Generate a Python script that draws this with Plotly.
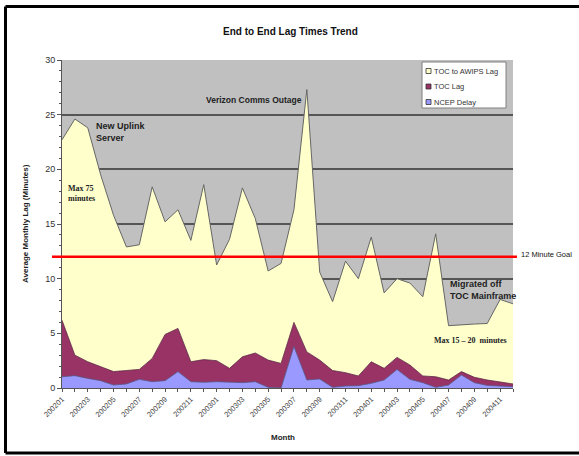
import plotly.graph_objects as go

months = [f"{y}{m:02d}" for y in (2002, 2003, 2004) for m in range(1, 13)]

# cumulative readings (top of each band) converted into separate series
total = [22.7, 24.6, 23.8, 19.5, 15.8, 12.9, 13.1, 18.4, 15.2, 16.3, 13.5, 18.6,
         11.25, 13.6, 18.3, 15.5, 10.7, 11.4, 16.3, 27.3, 10.6, 7.9, 11.6, 10.0,
         13.8, 8.7, 10.0, 9.6, 8.35, 14.1, 5.7, 5.8, 5.85, 5.9, 8.1, 7.7]
toc_top = [6.2, 3.0, 2.4, 1.95, 1.5, 1.6, 1.7, 2.7, 4.9, 5.45, 2.4, 2.6,
           2.5, 1.8, 2.85, 3.2, 2.55, 2.25, 6.0, 3.3, 2.55, 1.6, 1.4, 1.1,
           2.4, 1.8, 2.8, 2.1, 1.1, 1.03, 0.73, 1.5, 0.98, 0.73, 0.58, 0.37]
ncep_delay = [1.03, 1.13, 0.88, 0.67, 0.27, 0.37, 0.79, 0.58, 0.67, 1.5, 0.58, 0.52,
              0.58, 0.52, 0.49, 0.58, 0.06, 0.0, 3.8, 0.73, 0.82, 0.06, 0.18, 0.21,
              0.43, 0.73, 1.7, 0.79, 0.49, 0.06, 0.27, 1.19, 0.49, 0.24, 0.18, 0.12]
toc_lag = [round(t - n, 2) for t, n in zip(toc_top, ncep_delay)]
toc_awips = [round(a - t, 2) for a, t in zip(total, toc_top)]

series_names = ["TOC to AWIPS Lag", "TOC Lag", "NCEP Delay"]
series_colors = ["#ffffcc", "#993366", "#9999ff"]

goal = 12
y_ticks = [0, 5, 10, 15, 20, 25, 30]

idx = list(range(len(months)))
tick_text = [m if i % 2 == 0 else "" for i, m in enumerate(months)]

fig = go.Figure()
fig.add_trace(go.Scatter(x=idx, y=ncep_delay, name=series_names[2], stackgroup="one",
                         mode="lines", line=dict(color="#55558a", width=0.8),
                         fillcolor=series_colors[2]))
fig.add_trace(go.Scatter(x=idx, y=toc_lag, name=series_names[1], stackgroup="one",
                         mode="lines", line=dict(color="#5a2040", width=0.8),
                         fillcolor=series_colors[1]))
fig.add_trace(go.Scatter(x=idx, y=toc_awips, name=series_names[0], stackgroup="one",
                         mode="lines", line=dict(color="#666666", width=1),
                         fillcolor=series_colors[0]))

W, H = 579, 456
L, R, T, B = 62, 513, 60, 388


def px(x):
    return (x - L) / (R - L)


def py(y):
    return (B - y) / (B - T)


fig.add_shape(type="line", xref="paper", yref="y", x0=px(52), x1=px(517), y0=goal, y1=goal,
              line=dict(color="#ff0000", width=2.5))
# outer frame (left, top, bottom edges)
for (x0, y0, x1, y1) in [(5.5, 6.5, 700, 6.5), (5.5, 6.5, 5.5, 453), (5.5, 453, 700, 453)]:
    fig.add_shape(type="line", xref="paper", yref="paper", x0=px(x0), x1=px(x1),
                  y0=py(y0), y1=py(y1), line=dict(color="black", width=3), layer="above")


def ann(text, x, y, size=9, bold=True, family="Liberation Sans", xanchor="left",
        color="#222222", **kw):
    fig.add_annotation(text=f"<b>{text}</b>" if bold else text, x=px(x), y=py(y),
                       xref="paper", yref="paper", showarrow=False, xanchor=xanchor,
                       yanchor="middle", align="left",
                       font=dict(size=size, family=family, color=color), **kw)


ann("End to End Lag Times Trend", 290, 32, size=10, xanchor="center", color="#111111")
ann("Average Monthly Lag (Minutes)", 25, 224, size=8, xanchor="center", textangle=-90)
ann("Month", 283, 437, size=8, xanchor="center")
ann("New Uplink<br>Server", 94, 132, size=9)
ann("Verizon Comms Outage", 204, 100, size=8.5)
ann("Max 75<br>minutes", 66, 193, size=8, family="Liberation Serif")
ann("12 Minute Goal", 519, 254, size=7.5, bold=False, color="#111111")
ann("Migrated off<br>TOC Mainframe", 448, 290, size=9)
ann("Max 15 – 20  minutes", 432, 340, size=8, family="Liberation Serif")

# legend box drawn with shapes + text
fig.add_shape(type="rect", xref="paper", yref="paper", x0=px(422), x1=px(506), y0=py(62), y1=py(108),
              line=dict(color="#808080", width=1), fillcolor="white", layer="above")
for k, (nm, col) in enumerate(zip(series_names, series_colors)):
    yc = 71 + k * 15.5
    fig.add_shape(type="rect", xref="paper", yref="paper", x0=px(426), x1=px(431),
                  y0=py(yc - 2.5), y1=py(yc + 2.5), line=dict(color="#333333", width=0.8),
                  fillcolor=col, layer="above")
    ann(nm, 432, yc, size=7.5, bold=False, color="#333333")

fig.update_layout(
    width=W, height=H,
    margin=dict(l=L, r=W - R, t=T, b=H - B),
    paper_bgcolor="white", plot_bgcolor="#c0c0c0",
    font=dict(family="Liberation Sans", size=8, color="#333333"),
    showlegend=False,
    xaxis=dict(range=[0, len(months) - 1], tickvals=idx, ticktext=tick_text,
               tickangle=-45, ticks="outside", ticklen=3, tickcolor="#555555",
               showgrid=False, zeroline=False, showline=True, linecolor="#555555",
               tickfont=dict(size=7.5, color="#444444"), automargin=False),
    yaxis=dict(range=[0, 30], tickvals=y_ticks, ticks="outside", ticklen=4,
               tickcolor="#555555", showgrid=True, gridcolor="#555555", gridwidth=1.5,
               zeroline=False, showline=True, linecolor="#555555",
               minor=dict(dtick=1, ticks="outside", ticklen=2, tickcolor="#555555", showgrid=False),
               tickfont=dict(size=9), automargin=False),
)

fig.write_html("out.html", config={"displayModeBar": False},
               post_script="document.body.style.margin='0';document.body.style.overflow='hidden';")
